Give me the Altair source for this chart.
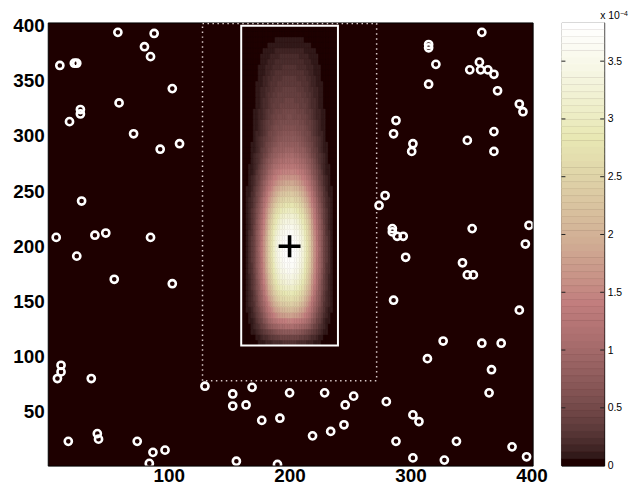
import math
import altair as alt
import pandas as pd

# ---------------- data ----------------
x_ticks = [100, 200, 300, 400]
y_ticks = [50, 100, 150, 200, 250, 300, 350, 400]
cbar_ticks = [0, 0.5, 1, 1.5, 2, 2.5, 3, 3.5]
cbar_inner_ticks = [0.5, 1, 1.5, 2, 2.5, 3, 3.5]
cbar_max = 3.835  # x 1e-4
cbar_title = ["x 10", "\u22124"]

circle_x = [58, 88, 80, 85, 10, 22, 24, 103, 59, 27, 27, 18, 71, 109, 93, 28, 7, 39, 48, 85,
            24, 55, 103, 11, 11, 8, 36, 130, 153, 169, 200, 153, 164, 177, 192, 219, 41, 42, 17, 74,
            87, 97, 84, 156, 190,
            359, 315, 315, 321, 357, 349, 358, 364, 369, 315, 372, 390, 393, 288, 286, 369, 302, 301,
            347, 369, 279, 274, 285, 285, 289, 294, 351, 398, 395,
            296, 343, 347, 352, 286, 390, 327, 359, 375, 314, 367, 365, 229, 253, 246, 280, 302, 307,
            245, 234, 288, 338, 384, 396, 302, 328]
circle_y = [394, 393, 381, 372, 364, 366, 366, 343, 330, 324, 320, 313, 302, 293, 288, 241, 208, 210, 212, 208,
            191, 170, 166, 92, 86, 80, 80, 73, 66, 72, 67, 55, 56, 42, 44, 28, 30, 25, 23, 23,
            13, 15, 3, 5, 2,
            394, 383, 380, 365, 367, 360, 360, 360, 356, 347, 341, 329, 322, 314, 302, 304, 293, 286,
            296, 286, 246, 237, 216, 213, 209, 209, 216, 219, 202,
            190, 185, 174, 174, 151, 142, 114, 112, 112, 98, 88, 67, 67, 64, 56, 59, 47, 41,
            38, 32, 23, 23, 18, 9, 8, 6]

cross_x = [200]
cross_y = [200]

box_x = [160, 240]
box_y = [110, 400]
dotted_x = [128, 272]
dotted_y = [78, 402]

# density image (x 1e-4): vertical profile along x=200, rows of 5 units from y=110 to 400
heat_rows_y = list(range(110, 400, 5))
row_peak = [0.25, 0.45, 0.75, 1.1, 1.45, 1.8, 2.1, 2.4, 2.65, 2.9,
            3.1, 3.3, 3.45, 3.6, 3.7, 3.77, 3.82, 3.835,
            3.82, 3.77, 3.68, 3.55, 3.4, 3.22, 3.02, 2.8, 2.57, 2.34,
            2.1, 1.88, 1.67, 1.48, 1.31, 1.16, 1.03, 0.92, 0.82, 0.74,
            0.68, 0.63, 0.58, 0.54, 0.5, 0.46, 0.43, 0.4, 0.37, 0.34,
            0.31, 0.28, 0.25, 0.22, 0.19, 0.15, 0.11, 0.07, 0.03, 0.0]
# horizontal profile (relative), columns of 2 units from x=160 to 240
heat_cols_x = list(range(160, 240, 2))
col_weight = [0.008, 0.015, 0.03, 0.05, 0.08, 0.12, 0.18, 0.25, 0.33, 0.42,
              0.52, 0.62, 0.71, 0.79, 0.86, 0.91, 0.95, 0.975, 0.99, 1.0,
              1.0, 0.99, 0.975, 0.95, 0.91, 0.86, 0.79, 0.71, 0.62, 0.52,
              0.42, 0.33, 0.25, 0.18, 0.12, 0.08, 0.05, 0.03, 0.015, 0.008]

# ---------------- MATLAB "pink" colormap (64 levels) ----------------
def pink64():
    cols = []
    for i in range(1, 65):
        g = (i - 1) / 63
        hr = min(i / 24, 1.0)
        hg = 0.0 if i <= 24 else min((i - 24) / 24, 1.0)
        hb = 0.0 if i <= 48 else (i - 48) / 16
        r = math.sqrt((2 * g + hr) / 3)
        gg = math.sqrt((2 * g + hg) / 3)
        b = math.sqrt((2 * g + hb) / 3)
        cols.append("#%02x%02x%02x" % (round(r * 255), round(gg * 255), round(b * 255)))
    return cols

PINK = pink64()

heat = pd.DataFrame([
    {"x": cx, "x2": cx + 2, "y": ry, "y2": ry + 5, "v": p * w}
    for ry, p in zip(heat_rows_y, row_peak)
    for cx, w in zip(heat_cols_x, col_weight)
])
circles = pd.DataFrame({"x": circle_x, "y": circle_y})
cross = pd.DataFrame({"x": cross_x, "y": cross_y})
box = pd.DataFrame({"x0": [box_x[0]], "x1": [box_x[1]], "y0": [box_y[0]], "y1": [box_y[1]]})
dbox = pd.DataFrame({"x0": [dotted_x[0]], "x1": [dotted_x[1]], "y0": [dotted_y[0]], "y1": [dotted_y[1]]})

H = 446
FONT = "Liberation Sans"
xs = alt.Scale(domain=[0, 401], nice=False, zero=False)
ys = alt.Scale(domain=[1, 403], nice=False, zero=False)
xaxis = alt.Axis(values=x_ticks, title=None, grid=False, ticks=False, domain=False,
                 labelFont=FONT, labelFontWeight="bold", labelFontSize=19, labelColor="black",
                 labelPadding=1, labelFlush=False)
yaxis = alt.Axis(values=y_ticks, title=None, grid=False, ticks=False, domain=False,
                 labelFont=FONT, labelFontWeight="bold", labelFontSize=19, labelColor="black",
                 labelPadding=3.5, labelFlush=False)
cscale = alt.Scale(type="quantize", domain=[0, cbar_max], range=PINK, nice=False, zero=False)

heat_layer = alt.Chart(heat).mark_rect(strokeWidth=0.6, clip=True).encode(
    x=alt.X("x:Q", scale=xs, axis=xaxis), x2="x2:Q",
    y=alt.Y("y:Q", scale=ys, axis=yaxis), y2="y2:Q",
    fill=alt.Fill("v:Q", scale=cscale, legend=None),
    stroke=alt.Stroke("v:Q", scale=cscale, legend=None),
)
dotted_layer = alt.Chart(dbox).mark_rect(fill=None, fillOpacity=0, stroke="#d8c8c8",
                                         strokeWidth=1.5, strokeDash=[1.5, 3.5], clip=True).encode(
    x=alt.X("x0:Q", scale=xs, axis=xaxis), x2="x1:Q",
    y=alt.Y("y0:Q", scale=ys, axis=yaxis), y2="y1:Q",
)
box_layer = alt.Chart(box).mark_rect(fill=None, fillOpacity=0, stroke="white",
                                     strokeWidth=2, clip=True).encode(
    x=alt.X("x0:Q", scale=xs, axis=xaxis), x2="x1:Q",
    y=alt.Y("y0:Q", scale=ys, axis=yaxis), y2="y1:Q",
)
circle_layer = alt.Chart(circles).mark_point(shape="circle", filled=False, stroke="white",
                                             strokeWidth=2.6, size=52, opacity=1, clip=True).encode(
    x=alt.X("x:Q", scale=xs, axis=xaxis),
    y=alt.Y("y:Q", scale=ys, axis=yaxis),
)
cross_layer = alt.Chart(cross).mark_point(shape="M-1,0L1,0M0,-1L0,1", filled=False, stroke="black",
                                          strokeWidth=3.6, size=484, opacity=1, clip=True).encode(
    x=alt.X("x:Q", scale=xs, axis=xaxis),
    y=alt.Y("y:Q", scale=ys, axis=yaxis),
)

main = alt.layer(heat_layer, dotted_layer, box_layer, circle_layer, cross_layer).properties(
    width=488, height=H)

# ---------------- colorbar ----------------
CB_W = 43
bands = pd.DataFrame({
    "lo": [i * cbar_max / 64 for i in range(64)],
    "hi": [(i + 1) * cbar_max / 64 for i in range(64)],
    "c": PINK,
})
cys = alt.Scale(domain=[0, cbar_max], nice=False, zero=False)
caxis = alt.Axis(values=cbar_ticks, orient="right", title=None, grid=False, ticks=False, domain=False,
                 labelFont=FONT, labelFontSize=10.5, labelColor="black", labelPadding=3,
                 format="~g", labelFlush=False)
band_layer = alt.Chart(bands).mark_rect(strokeWidth=0.5).encode(
    x=alt.value(0), x2=alt.value(CB_W),
    y=alt.Y("lo:Q", scale=cys, axis=caxis), y2="hi:Q",
    fill=alt.Fill("c:N", scale=None),
    stroke=alt.Stroke("c:N", scale=None),
)
tdf = pd.DataFrame({"t": cbar_inner_ticks})
ltick = alt.Chart(tdf).mark_rule(color="#222", strokeWidth=1).encode(
    x=alt.value(0), x2=alt.value(4), y=alt.Y("t:Q", scale=cys, axis=caxis))
rtick = alt.Chart(tdf).mark_rule(color="#222", strokeWidth=1).encode(
    x=alt.value(CB_W - 4), x2=alt.value(CB_W), y=alt.Y("t:Q", scale=cys, axis=caxis))
t1 = alt.Chart(pd.DataFrame({"s": [cbar_title[0]]})).mark_text(
    align="left", baseline="alphabetic", font=FONT, fontSize=10.5, color="black").encode(
    x=alt.value(CB_W - 4), y=alt.value(-3), text="s:N")
t2 = alt.Chart(pd.DataFrame({"s": [cbar_title[1]]})).mark_text(
    align="left", baseline="alphabetic", font=FONT, fontSize=7, color="black").encode(
    x=alt.value(CB_W + 16), y=alt.value(-6), text="s:N")

cbar = alt.layer(band_layer, ltick, rtick, t1, t2).properties(width=CB_W, height=H)

chart = alt.hconcat(main, cbar, spacing=12).properties(
    padding={"left": 4, "top": 0, "right": 0, "bottom": 0},
    background="white",
).configure_view(stroke="black", strokeWidth=1, fill=PINK[0]).resolve_scale(
    y="independent", fill="independent", stroke="independent")

chart.save("out.html", embed_options={"renderer": "svg", "actions": False})
